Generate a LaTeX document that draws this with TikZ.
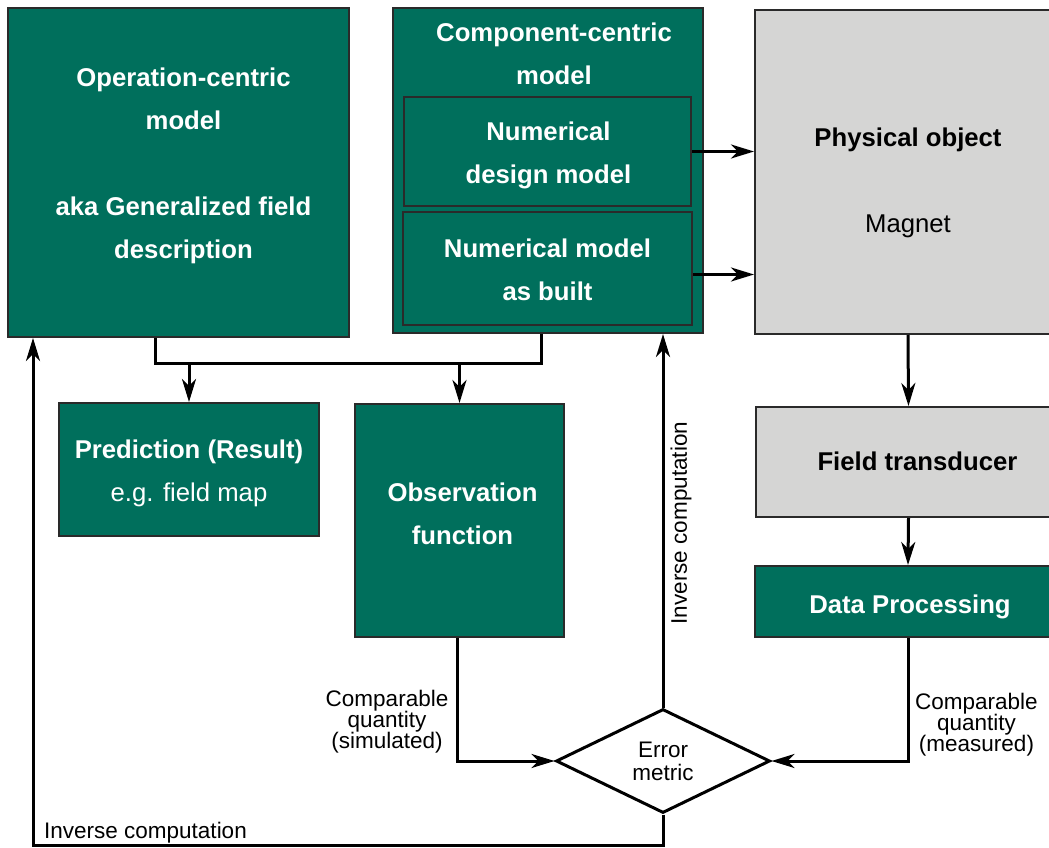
\documentclass[tikz,border=0pt]{standalone}
\usepackage{fontspec}
\setmainfont{Liberation Sans}
\usetikzlibrary{arrows.meta,shapes.geometric}
\begin{document}
\begin{tikzpicture}[x=1pt,y=1pt,
  greenbox/.style={draw=edge,line width=2pt,fill=pine,inner sep=0pt},
  greybox/.style={greenbox,fill=stone},
  boxtext/.style={text=white,align=center,inner sep=0pt,font=\fontsize{25.7}{43}\selectfont\bfseries},
  greytext/.style={boxtext,text=black},
  link/.style={line width=3pt},
  arrow/.style={link,-{Stealth[length=23pt,width=14pt,inset=7pt]}},
  note/.style={font=\fontsize{22.5}{21}\selectfont,align=center,inner sep=0pt}]
\definecolor{pine}{HTML}{006F5C}\definecolor{stone}{HTML}{D5D5D4}
\definecolor{edge}{HTML}{2A2A2A}
\useasboundingbox (0,0) rectangle (1049,847);
% models
\node[greenbox,minimum width=341,minimum height=329] (opmodel) at (178.5,674.5) {};
\node[boxtext] (optext) at ([shift={(5,6.5)}]opmodel.center)
  {Operation-centric\\model\\[43pt]aka Generalized field\\description};
\node[greenbox,minimum width=310,minimum height=325] (compmodel) at (548,676.5) {};
\node[boxtext] (comptitle) at (554,793) {Component-centric\\model};
\node[greenbox,minimum width=287,minimum height=109] (design) at (547.5,695.5) {};
\node[boxtext] (designtext) at ([shift={(1,-4)}]design.center) {Numerical\\design model};
\node[greenbox,minimum width=289,minimum height=113] (asbuilt) at (547.5,578.5) {};
\node[boxtext] (asbuilttext) at ([shift={(0,-1)}]asbuilt.center) {Numerical model\\as built};
% measurement chain
\node[greybox,minimum width=306,minimum height=324] (physobj) at (908,675) {};
\node[greytext] (phystext) at ([shift={(0,-10.5)}]physobj.center)
  {Physical object\\[43pt]{\mdseries Magnet}};
\node[greybox,minimum width=305,minimum height=110] (transducer) at (908.5,385) {};
\node[greytext] (transtext) at ([shift={(9,1)}]transducer.center) {Field transducer};
\node[greenbox,minimum width=306,minimum height=71] (dataproc) at (908,245.5) {};
\node[boxtext] (datatext) at ([shift={(2,-5)}]dataproc.center) {Data Processing};
% results
\node[greenbox,minimum width=260,minimum height=133] (prediction) at (189,377.5) {};
\node[boxtext] (predtext) at ([shift={(0,-3.5)}]prediction.center)
  {Prediction (Result)\\{\mdseries e.g. field map}};
\node[greenbox,minimum width=209,minimum height=233] (observation) at (459.5,326.5) {};
\node[boxtext] (obstext) at ([shift={(3,7)}]observation.center) {Observation\\function};
\node[diamond,draw,line width=3pt,minimum width=214,minimum height=104,inner sep=0pt,
  font=\fontsize{22.5}{23}\selectfont,align=center] (error) at (663,86) {Error\\metric};
% connectors
\coordinate (junc) at (155,483);
\coordinate (loop) at (33,2);
\draw[link] ([xshift=-23.5pt]opmodel.south) |- (junc) -| ([xshift=-7pt]compmodel.south);
\draw[arrow] (prediction.north |- junc) -- (prediction.north);
\draw[arrow] (observation.north |- junc) -- (observation.north);
\draw[arrow] (design.east) -- (design.east -| physobj.west);
\draw[arrow] ([yshift=-6pt]asbuilt.east) -- ([yshift=-6pt]asbuilt.east -| physobj.west);
\draw[arrow] (physobj.south) -- (transducer.north);
\draw[arrow] (transducer.south) -- (dataproc.north);
\draw[arrow] (dataproc.south) |- (error.east);
\draw[arrow] ([xshift=-2.5pt]observation.south) |- (error.west);
\draw[arrow] (error.north) -- (error.north |- compmodel.south);
\draw[arrow] (error.south) |- (loop) -- (loop |- opmodel.south);
% labels
\node[note,anchor=east] (simlabel) at (448.5,125.5) {Comparable\\quantity\\(simulated)};
\node[note,anchor=west] (measlabel) at (915,122.5) {Comparable\\quantity\\(measured)};
\node[note,rotate=90] (invlabel) at (681,324) {Inverse computation};
\node[note,anchor=west] (invlabelb) at (44,14) {Inverse computation};
\end{tikzpicture}
\end{document}
